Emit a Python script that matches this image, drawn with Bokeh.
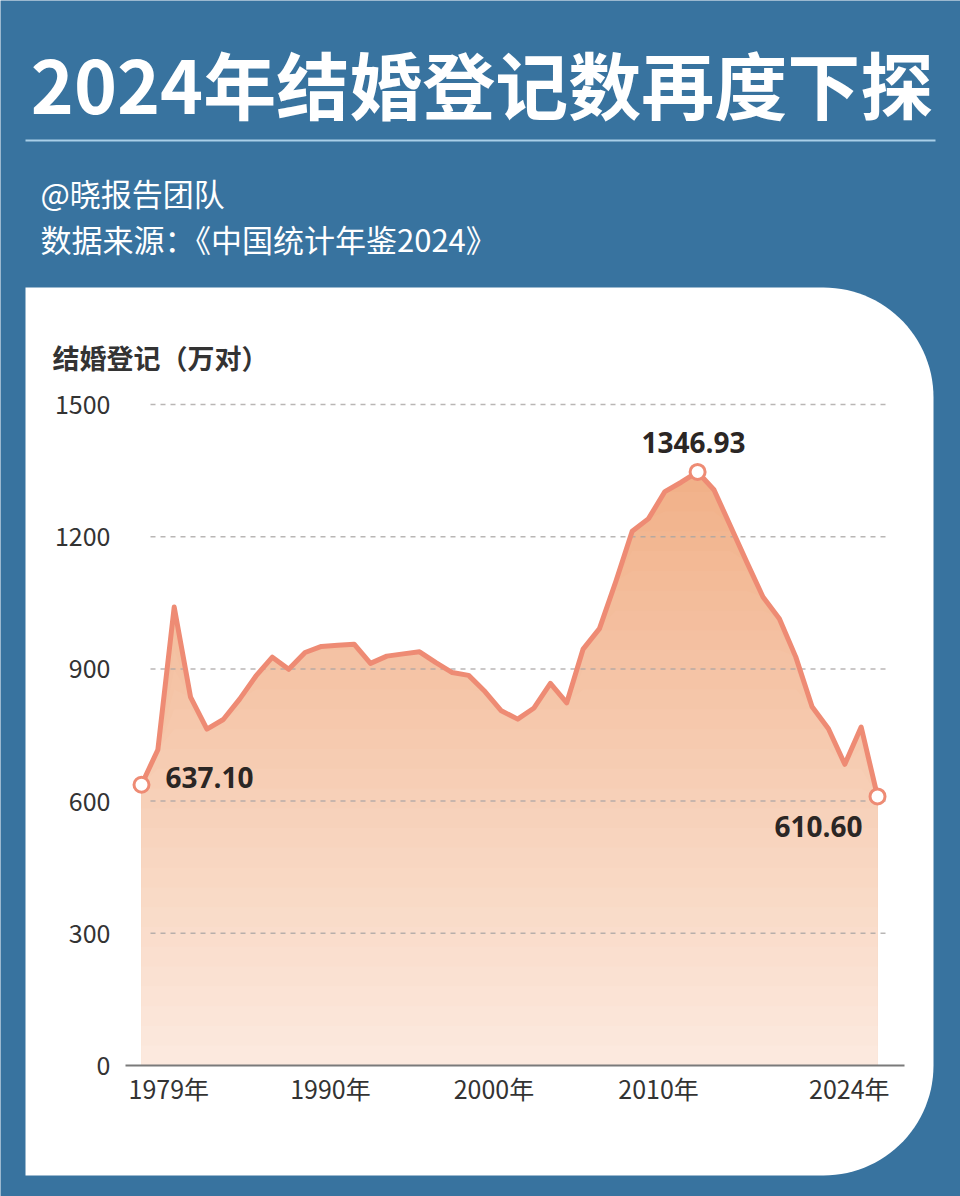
import numpy as np
from bokeh.plotting import figure
from bokeh.models import Range1d, Label
from bokeh.embed import file_html
from bokeh.resources import INLINE

# ---------------- data ----------------
years = list(range(1979, 2025))
marriages = [637.1, 716.6, 1040.3, 835.8, 763.3, 785.2, 831.3, 884.0, 926.6, 899.0,
             937.2, 951.1, 953.6, 956.0, 912.5, 929.0, 934.1, 938.7, 914.1, 891.7,
             885.3, 848.5, 805.0, 786.0, 811.4, 867.2, 823.1, 945.0, 991.4, 1098.3,
             1212.4, 1241.0, 1302.4, 1323.6, 1346.93, 1306.7, 1224.7, 1142.8, 1063.1, 1013.9,
             927.3, 814.3, 764.3, 683.5, 768.2, 610.6]
y_ticks = [0, 300, 600, 900, 1200, 1500]
x_tick_years = [1979, 1990, 2000, 2010, 2024]
x_tick_labels = ["1979年", "1990年", "2000年", "2010年", "2024年"]
highlight_years = [1979, 2013, 2024]

title_text = "2024年结婚登记数再度下探"
subtitle_1 = "@晓报告团队"
subtitle_2 = "数据来源：《中国统计年鉴2024》"
y_title = "结婚登记（万对）"

# ---------------- scale set-up (page pixels) ----------------
W, H = 960, 1196
PX_PER_YEAR = 16.356
PX_PER_UNIT = 661.0 / 1500.0
X0_PAGE = 141      # pixel of the first year
Y0_PAGE = 1065     # pixel of value 0
x_start = 1979 - X0_PAGE / PX_PER_YEAR
x_end = x_start + W / PX_PER_YEAR
y_start = (Y0_PAGE - H) / PX_PER_UNIT
y_end = Y0_PAGE / PX_PER_UNIT


def px(X):
    return x_start + X / PX_PER_YEAR


def py(Y):
    return (Y0_PAGE - Y) / PX_PER_UNIT


BLUE = "#38739f"
LINE = "#ee8b74"
CJK = "Noto Sans CJK SC"

p = figure(width=W, height=H, output_backend="svg", toolbar_location=None,
           x_range=Range1d(x_start, x_end), y_range=Range1d(y_start, y_end),
           x_axis_type=None, y_axis_type=None, min_border=0)
p.background_fill_color = BLUE
p.border_fill_color = BLUE
p.outline_line_color = None
p.grid.visible = False

# ---------------- white card ----------------
R = 110
card = [(25, 287)]
for t in np.linspace(-np.pi / 2, 0, 30):
    card.append((823 + R * np.cos(t), 287 + R + R * np.sin(t)))
for t in np.linspace(0, np.pi / 2, 30):
    card.append((823 + R * np.cos(t), 1175 - R + R * np.sin(t)))
card.append((25, 1175))
p.patch([px(a) for a, b in card], [py(b) for a, b in card], fill_color="white", line_color=None)

# separator line under the title
p.segment(x0=[px(25)], x1=[px(935)], y0=[py(140)], y1=[py(140)], line_color="#a9cfe8", line_width=2)

# ---------------- chart ----------------
grid_y = [t for t in y_ticks if t > 0]
vals = np.array(marriages)
vmax = vals.max()
levels = np.linspace(0, vmax, 31)
top_rgb = np.array([241, 176, 136])
bot_rgb = np.array([252, 234, 223])
for i in range(len(levels) - 1, 0, -1):
    upper = vals if i == len(levels) - 1 else np.minimum(vals, levels[i])
    t = (levels[i] + levels[i - 1]) / 2 / vmax
    c = (bot_rgb + (top_rgb - bot_rgb) * t).round().astype(int)
    p.varea(x=years, y1=np.zeros_like(vals), y2=upper, fill_color="#%02x%02x%02x" % tuple(c))

# dashed grid lines
p.segment(x0=[px(150)] * len(grid_y), x1=[px(886)] * len(grid_y), y0=grid_y, y1=grid_y,
          line_color="#a8a4a2", line_alpha=0.8, line_width=1.5, line_dash="5 5")
# x axis line
p.segment(x0=[px(125)], x1=[px(904)], y0=[y_ticks[0]], y1=[y_ticks[0]],
          line_color="#7a7a7a", line_width=2)

p.line(years, marriages, line_color=LINE, line_width=5, line_join="round")
hl_vals = [marriages[years.index(y)] for y in highlight_years]
p.scatter(x=highlight_years, y=hl_vals, size=15, fill_color="white",
          line_color=LINE, line_width=3)

# value labels
lab_align = ["left", "center", "right"]
lab_dx = [24, -4, -15]
lab_dy = [7, 29, -30]
for yr, v, al, dx, dy in zip(highlight_years, hl_vals, lab_align, lab_dx, lab_dy):
    p.add_layout(Label(x=yr, y=v, text="%.2f" % v, x_offset=dx, y_offset=dy,
                       text_align=al, text_baseline="alphabetic",
                       text_font="Open Sans", text_font_style="bold",
                       text_font_size="28px", text_color="#2b2624"))

# y tick labels
for t in y_ticks:
    p.add_layout(Label(x=px(110), y=t, text=str(t), text_align="right",
                       text_baseline="middle", text_font=CJK,
                       text_font_size="25px", text_color="#333333"))

# x tick labels
tick_align = ["left", "center", "center", "center", "right"]
tick_dx = [-13, 9, 9, 10, 12]
for yr, txt, al, dx in zip(x_tick_years, x_tick_labels, tick_align, tick_dx):
    p.add_layout(Label(x=yr, y=y_ticks[0], text=txt, x_offset=dx, y_offset=-22,
                       text_align=al, text_baseline="middle", text_font=CJK,
                       text_font_size="25px", text_color="#333333"))

# ---------------- texts ----------------
p.add_layout(Label(x=px(481.5), y=py(81), text=title_text, text_align="center",
                   text_baseline="middle", text_font=CJK, text_font_style="bold",
                   text_font_size="73px", text_color="white"))
p.add_layout(Label(x=px(40), y=py(192), text=subtitle_1, text_align="left",
                   text_baseline="middle", text_font=CJK, text_font_size="31px",
                   text_color="white"))
p.add_layout(Label(x=px(40), y=py(238), text=subtitle_2, text_align="left",
                   text_baseline="middle", text_font=CJK, text_font_size="31px",
                   text_color="white"))
p.add_layout(Label(x=px(52), y=py(357), text=y_title, text_align="left",
                   text_baseline="middle", text_font=CJK, text_font_style="bold",
                   text_font_size="27px", text_color="#333333"))

open("out.html", "w").write(file_html(p, INLINE))
